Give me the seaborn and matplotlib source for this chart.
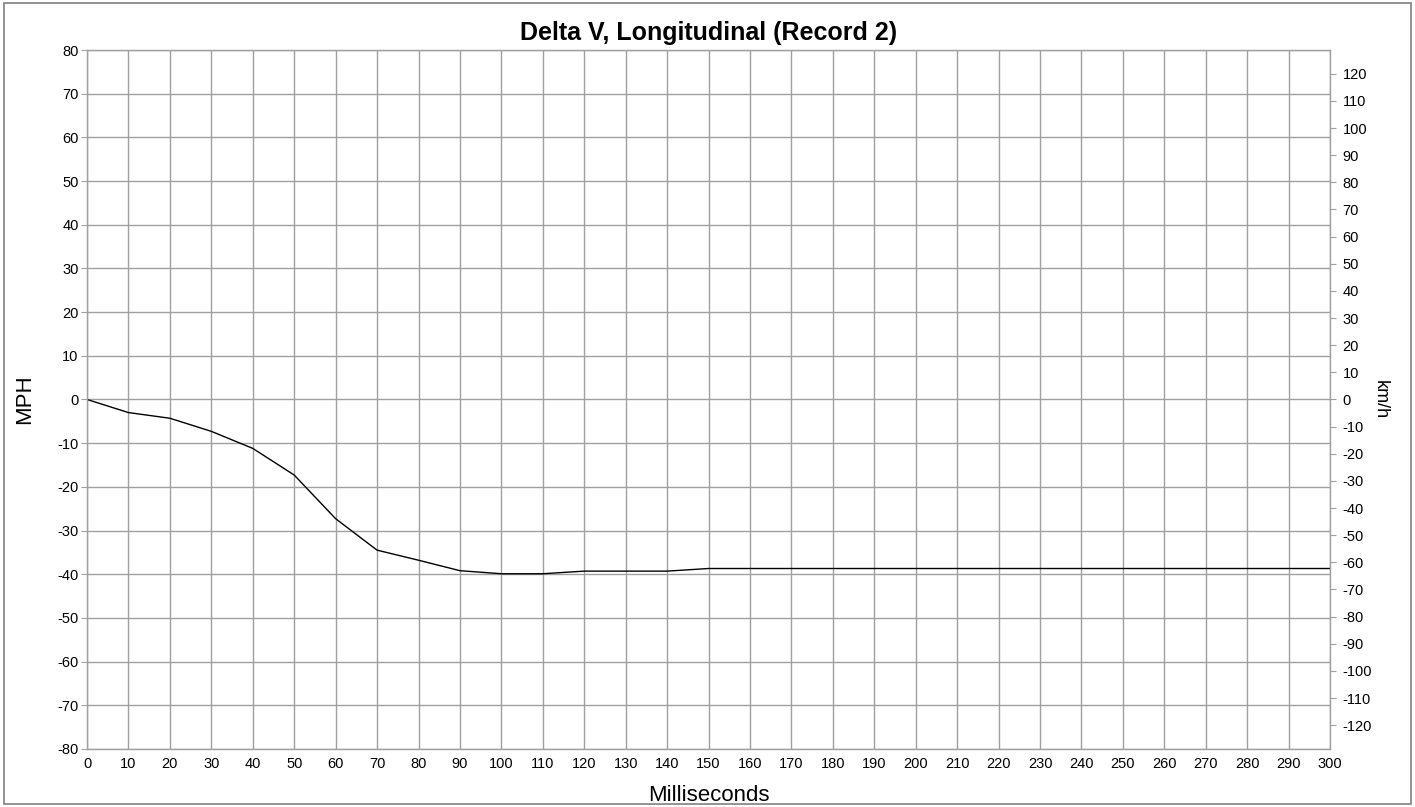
import matplotlib
matplotlib.use("Agg")
import matplotlib.pyplot as plt
import seaborn as sns
import pandas as pd
from matplotlib.patches import Rectangle

# Delta V samples (MPH every 10 ms)
ms = [0, 10, 20, 30, 40, 50, 60, 70, 80, 90, 100, 110, 120, 130, 140, 150,
      160, 170, 180, 190, 200, 210, 220, 230, 240, 250, 260, 270, 280, 290, 300]
mph = [0, -3.0, -4.3, -7.3, -11.2, -17.3, -27.3, -34.5, -36.8, -39.2, -39.9, -39.9,
       -39.3, -39.3, -39.3, -38.7, -38.7, -38.7, -38.7, -38.7, -38.7, -38.7, -38.7,
       -38.7, -38.7, -38.7, -38.7, -38.7, -38.7, -38.7, -38.7]
mph_ticks = list(range(-80, 81, 10))
kmh_ticks = list(range(-120, 121, 10))
KMH_PER_MPH = 1.609344

df = pd.DataFrame({"Milliseconds": ms, "MPH": mph})

sns.set_style("white")
plt.rcParams["font.family"] = ["Liberation Sans", "DejaVu Sans"]
plt.rcParams["axes.unicode_minus"] = False
plt.rcParams["text.color"] = "black"
plt.rcParams["xtick.color"] = "black"
plt.rcParams["ytick.color"] = "black"

fig = plt.figure(figsize=(14.15, 8.07), dpi=100)
ax = fig.add_axes([0.0615, 0.072, 0.8785, 0.866])

grid_col = "#a0a0a0"
sns.lineplot(data=df, x="Milliseconds", y="MPH", ax=ax, color="black", linewidth=1)

ax.set_xlim(0, 300)
ax.set_ylim(-80, 80)
ax.set_xticks(range(0, 301, 10))
ax.set_yticks(mph_ticks)
ax.grid(True, color=grid_col, linewidth=1)
ax.set_axisbelow(True)
for s in ax.spines.values():
    s.set_color(grid_col)
    s.set_linewidth(1)
ax.tick_params(axis="both", labelsize=10.5, length=4, color=grid_col, pad=2,
               labelcolor="black")
ax.set_xlabel("Milliseconds", fontsize=16, labelpad=10, color="black")
ax.set_ylabel("MPH", fontsize=16, labelpad=16, color="black")
ax.set_title("Delta V, Longitudinal (Record 2)", fontsize=18, fontweight="bold", pad=7)

# right hand km/h scale
ax2 = ax.twinx()
ax2.set_ylim(-80 * KMH_PER_MPH, 80 * KMH_PER_MPH)
ax2.set_yticks(kmh_ticks)
ax2.tick_params(axis="y", labelsize=10.5, length=4, color=grid_col, pad=5,
                labelcolor="black")
for s in ax2.spines.values():
    s.set_visible(False)
ax2.set_ylabel("km/h", fontsize=13, rotation=270, labelpad=12, color="black")

# outer frame
fig.patches.append(Rectangle((0.003, 0.004), 0.994, 0.992, transform=fig.transFigure,
                             fill=False, edgecolor="#808080", linewidth=1.2))

fig.savefig("out.png", dpi=100)
